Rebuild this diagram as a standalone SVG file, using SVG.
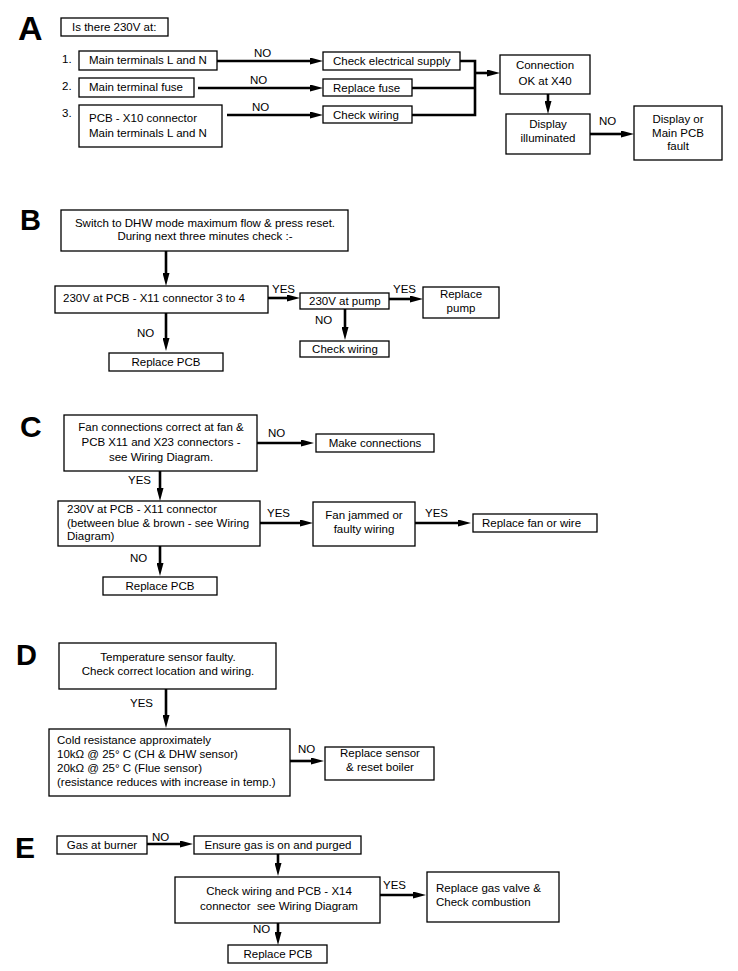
<svg xmlns="http://www.w3.org/2000/svg" width="738" height="971" viewBox="0 0 738 971">
<style>
  .bx{fill:#fff;stroke:#000;stroke-width:1.3}
  .t{font-family:"Liberation Sans",Arial,sans-serif;font-size:11.5px;fill:#000}
  .c{text-anchor:middle}
  .big{font-family:"Liberation Sans",Arial,sans-serif;font-weight:bold;fill:#000}
  .ar{fill:none;stroke:#000;stroke-width:2.6;marker-end:url(#ah)}
  .ln{fill:none;stroke:#000;stroke-width:2.6}
</style>
<defs>
  <marker id="ah" markerUnits="userSpaceOnUse" markerWidth="14" markerHeight="7" viewBox="0 0 14 7" refX="1" refY="3.5" orient="auto">
    <path d="M0,0 L13,3.5 L0,7 Z" fill="#000"/>
  </marker>
</defs>
<rect width="738" height="971" fill="#fff"/>

<!-- Section letters -->
<text class="big" x="18" y="40" font-size="34">A</text>
<text class="big" x="20" y="230" font-size="29">B</text>
<text class="big" x="20" y="437" font-size="30">C</text>
<text class="big" x="16" y="665" font-size="29">D</text>
<text class="big" x="15" y="858" font-size="30">E</text>

<!-- Connectors -->
<g id="connectors">
  <!-- A -->
  <path class="ar" d="M217,61 H311"/>
  <path class="ar" d="M198,88 H311"/>
  <path class="ar" d="M227,115 H311"/>
  <path class="ln" d="M460,61 H475 M412,88 H475 M412,115 H475 M475,59.7 V116.3"/>
  <path class="ar" d="M475,73 H488"/>
  <path class="ar" d="M548,94 V102"/>
  <path class="ar" d="M590,134 H622"/>
  <!-- B -->
  <path class="ar" d="M166,251 V274"/>
  <path class="ar" d="M268,298 H288"/>
  <path class="ar" d="M389,299 H411"/>
  <path class="ar" d="M345,309 V328"/>
  <path class="ar" d="M166,313 V339"/>
  <!-- C -->
  <path class="ar" d="M257,443 H302"/>
  <path class="ar" d="M160,471 V489"/>
  <path class="ar" d="M260,523 H301"/>
  <path class="ar" d="M415,523 H459"/>
  <path class="ar" d="M160,546 V564"/>
  <!-- D -->
  <path class="ar" d="M166,689 V716"/>
  <path class="ar" d="M290,761 H312"/>
  <!-- E -->
  <path class="ar" d="M147,844 H181"/>
  <path class="ar" d="M278,854 V864"/>
  <path class="ar" d="M380,895 H414"/>
  <path class="ar" d="M278,923 V933"/>
  <!-- labels -->
  <g class="t">
    <text x="254" y="57">NO</text>
    <text x="250" y="84">NO</text>
    <text x="252" y="111">NO</text>
    <text x="599" y="125">NO</text>
    <text x="272" y="293">YES</text>
    <text x="393" y="293">YES</text>
    <text x="315" y="324">NO</text>
    <text x="137" y="337">NO</text>
    <text x="268" y="437">NO</text>
    <text x="128" y="484">YES</text>
    <text x="267" y="517">YES</text>
    <text x="425" y="517">YES</text>
    <text x="130" y="562">NO</text>
    <text x="130" y="707">YES</text>
    <text x="298" y="753">NO</text>
    <text x="152" y="841">NO</text>
    <text x="383" y="889">YES</text>
    <text x="253" y="933">NO</text>
  </g>
</g>

<!-- Section A -->
<g id="a-question"><rect class="bx" x="61" y="18" width="107" height="18"/><text class="t" x="72" y="31">Is there 230V at:</text></g>
<g id="a-num" class="t"><text x="62" y="63">1.</text><text x="62" y="90">2.</text><text x="62" y="117">3.</text></g>
<g id="a-b1"><rect class="bx" x="79" y="51" width="138" height="19"/><text class="t" x="89" y="64">Main terminals L and N</text></g>
<g id="a-b2"><rect class="bx" x="79" y="78" width="115" height="19"/><text class="t" x="89" y="91">Main terminal fuse</text></g>
<g id="a-b3"><rect class="bx" x="79" y="105" width="143" height="42"/><text class="t" x="89" y="122">PCB - X10 connector</text><text class="t" x="89" y="137">Main terminals L and N</text></g>
<g id="a-c1"><rect class="bx" x="323" y="52" width="137" height="18"/><text class="t" x="333" y="65">Check electrical supply</text></g>
<g id="a-c2"><rect class="bx" x="323" y="79" width="89" height="17"/><text class="t" x="333" y="92">Replace fuse</text></g>
<g id="a-c3"><rect class="bx" x="323" y="106" width="89" height="17"/><text class="t" x="333" y="119">Check wiring</text></g>
<g id="a-ok"><rect class="bx" x="500" y="55" width="90" height="39"/><text class="t c" x="545" y="69">Connection</text><text class="t c" x="545" y="85">OK at X40</text></g>
<g id="a-disp"><rect class="bx" x="506" y="114" width="84" height="40"/><text class="t c" x="548" y="128">Display</text><text class="t c" x="548" y="142">illuminated</text></g>
<g id="a-fault"><rect class="bx" x="634" y="106" width="88" height="54"/><text class="t c" x="678" y="123">Display or</text><text class="t c" x="678" y="137">Main PCB</text><text class="t c" x="678" y="150">fault</text></g>

<!-- Section B -->
<g id="b-top"><rect class="bx" x="61" y="210" width="287" height="41"/><text class="t c" x="205" y="227">Switch to DHW mode maximum flow &amp; press reset.</text><text class="t c" x="205" y="240">During next three minutes check :-</text></g>
<g id="b-pcb"><rect class="bx" x="55" y="286" width="213" height="27"/><text class="t" x="63" y="302">230V at PCB - X11 connector 3 to 4</text></g>
<g id="b-pump"><rect class="bx" x="300" y="293" width="89" height="16"/><text class="t" x="309" y="305">230V at pump</text></g>
<g id="b-rpump"><rect class="bx" x="423" y="287" width="76" height="31"/><text class="t c" x="461" y="298">Replace</text><text class="t c" x="461" y="312">pump</text></g>
<g id="b-cw"><rect class="bx" x="300" y="341" width="89" height="16"/><text class="t c" x="345" y="353">Check wiring</text></g>
<g id="b-rpcb"><rect class="bx" x="109" y="353" width="114" height="18"/><text class="t c" x="166" y="366">Replace PCB</text></g>

<!-- Section C -->
<g id="c-top"><rect class="bx" x="64" y="415" width="193" height="56"/><text class="t c" x="161" y="431">Fan connections correct at fan &amp;</text><text class="t c" x="161" y="446">PCB X11 and X23 connectors -</text><text class="t c" x="161" y="461">see Wiring Diagram.</text></g>
<g id="c-230"><rect class="bx" x="58" y="501" width="202" height="45"/><text class="t" x="67" y="513">230V at PCB - X11 connector</text><text class="t" x="67" y="527">(between blue &amp; brown - see Wiring</text><text class="t" x="67" y="540">Diagram)</text></g>
<g id="c-make"><rect class="bx" x="316" y="434" width="118" height="18"/><text class="t c" x="375" y="447">Make connections</text></g>
<g id="c-fan"><rect class="bx" x="313" y="502" width="102" height="44"/><text class="t c" x="364" y="519">Fan jammed or</text><text class="t c" x="364" y="533">faulty wiring</text></g>
<g id="c-rfan"><rect class="bx" x="473" y="514" width="124" height="18"/><text class="t" x="482" y="527">Replace fan or wire</text></g>
<g id="c-rpcb"><rect class="bx" x="103" y="577" width="114" height="18"/><text class="t c" x="160" y="590">Replace PCB</text></g>

<!-- Section D -->
<g id="d-top"><rect class="bx" x="59" y="643" width="217" height="46"/><text class="t c" x="168" y="661">Temperature sensor faulty.</text><text class="t c" x="168" y="675">Check correct location and wiring.</text></g>
<g id="d-cold"><rect class="bx" x="49" y="729" width="241" height="67"/><text class="t" x="57" y="744">Cold resistance approximately</text><text class="t" x="57" y="758">10kΩ @ 25° C (CH &amp; DHW sensor)</text><text class="t" x="57" y="772">20kΩ @ 25° C (Flue sensor)</text><text class="t" x="57" y="786">(resistance reduces with increase in temp.)</text></g>
<g id="d-rs"><rect class="bx" x="325" y="747" width="109" height="33"/><text class="t c" x="380" y="757">Replace sensor</text><text class="t c" x="380" y="771">&amp; reset boiler</text></g>

<!-- Section E -->
<g id="e-gas"><rect class="bx" x="57" y="836" width="90" height="18"/><text class="t c" x="102" y="849">Gas at burner</text></g>
<g id="e-ens"><rect class="bx" x="194" y="836" width="167" height="18"/><text class="t c" x="278" y="849">Ensure gas is on and purged</text></g>
<g id="e-cw"><rect class="bx" x="175" y="877" width="205" height="46"/><text class="t c" x="279" y="895">Check wiring and PCB - X14</text><text class="t c" x="279" y="910" xml:space="preserve">connector  see Wiring Diagram</text></g>
<g id="e-rgv"><rect class="bx" x="427" y="872" width="132" height="50"/><text class="t" x="436" y="892">Replace gas valve &amp;</text><text class="t" x="436" y="906">Check combustion</text></g>
<g id="e-rpcb"><rect class="bx" x="228" y="945" width="99" height="18"/><text class="t c" x="278" y="958">Replace PCB</text></g>
</svg>
